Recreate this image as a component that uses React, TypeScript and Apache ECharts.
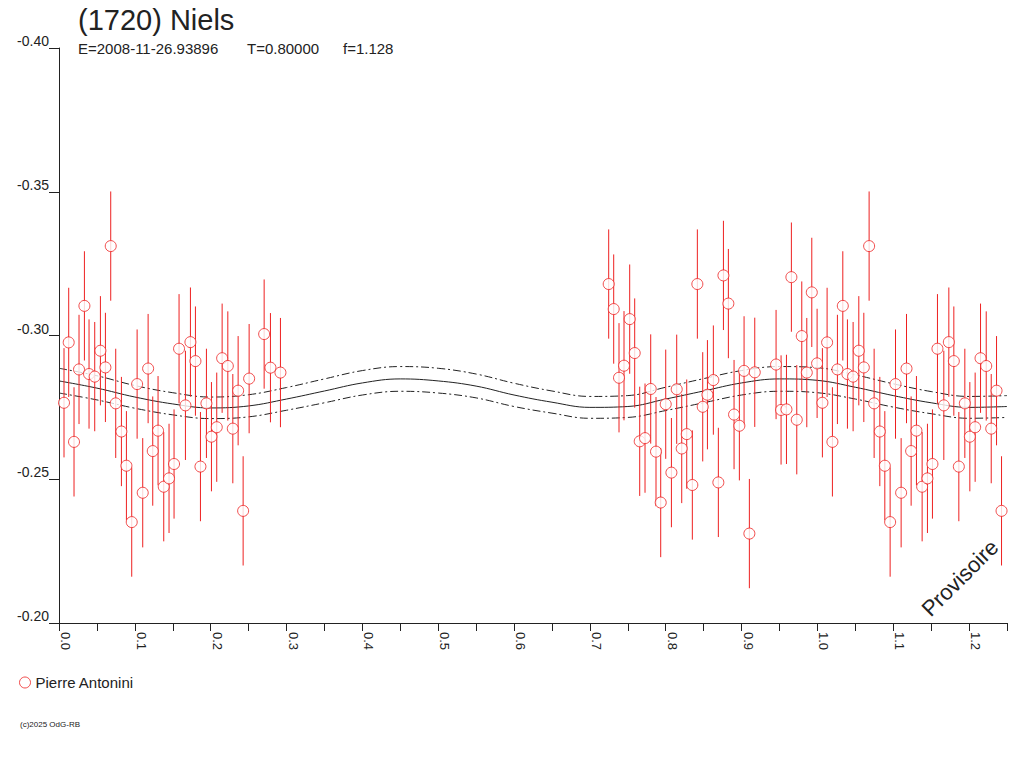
import React, { useEffect, useRef } from "react";
import * as echarts from "echarts";

const TITLE = "(1720) Niels";
const SUB_E = "E=2008-11-26.93896";
const SUB_T = "T=0.80000";
const SUB_F = "f=1.128";
const OBSERVER = "Pierre Antonini";
const WATERMARK = "Provisoire";
const COPYRIGHT = "(c)2025 OdG-RB";

// Observations (phase in [0,1)), reduced magnitude
const OBS_PHASE = [
  0.0066, 0.0128, 0.0198, 0.0264, 0.0335, 0.0396, 0.0471, 0.0546, 0.0612, 0.0682,
  0.0748, 0.0823, 0.0889, 0.0959, 0.103, 0.1104, 0.1175, 0.1236, 0.1306, 0.1381,
  0.1451, 0.1517, 0.1583, 0.1667, 0.1733, 0.1799, 0.1865, 0.1944, 0.201, 0.208,
  0.2151, 0.2226, 0.2292, 0.2362, 0.2428, 0.2507, 0.2705, 0.2788, 0.292,
  0.7248, 0.7314, 0.7384, 0.745, 0.7525, 0.7591, 0.7657, 0.7727, 0.7802, 0.7872,
  0.7934, 0.8, 0.8075, 0.8145, 0.8211, 0.8277, 0.8351, 0.8417, 0.8488, 0.855,
  0.8628, 0.8694, 0.8761, 0.8826, 0.8901, 0.8971, 0.9033, 0.9103, 0.9174, 0.9455,
  0.9521, 0.9592, 0.9657, 0.9728, 0.9794, 0.986, 0.9926, 0.9996,
];
const OBS_MAG = [
  -0.2766, -0.2976, -0.263, -0.2882, -0.3103, -0.2866, -0.2857, -0.2947, -0.2889, -0.3311,
  -0.2764, -0.2666, -0.2547, -0.2351, -0.2831, -0.2453, -0.2885, -0.2598, -0.2669, -0.2474,
  -0.2503, -0.2553, -0.2954, -0.2757, -0.2977, -0.2911, -0.2544, -0.2764, -0.2648, -0.2681,
  -0.2921, -0.2894, -0.2676, -0.2808, -0.239, -0.285, -0.3005, -0.2888, -0.2871,
  -0.3179, -0.3092, -0.2853, -0.2895, -0.3057, -0.2939, -0.2632, -0.2643, -0.2814, -0.2596,
  -0.2419, -0.2761, -0.2523, -0.2813, -0.2607, -0.2657, -0.248, -0.3179, -0.2752, -0.2794,
  -0.2845, -0.2489, -0.3209, -0.3111, -0.2725, -0.2686, -0.2877, -0.2311, -0.2872, -0.2899,
  -0.2741, -0.2743, -0.3203, -0.2707, -0.2998, -0.2871, -0.315, -0.2903,
];
const OBS_ERR = 0.019;

// Fitted curve and its envelope
const FIT_PHASE = [
  0, 0.05, 0.1, 0.15, 0.2, 0.25, 0.3, 0.35, 0.4, 0.45, 0.5, 0.55, 0.6,
  0.65, 0.7, 0.75, 0.8, 0.85, 0.9, 0.95, 1.0, 1.05, 1.1, 1.15, 1.2, 1.25,
];
const FIT_MAG = [
  -0.2842, -0.2817, -0.2786, -0.2762, -0.2748, -0.2755, -0.2779, -0.2807, -0.2835, -0.2849,
  -0.2842, -0.2824, -0.2793, -0.2768, -0.2750, -0.2753, -0.2779, -0.2807, -0.2835, -0.2849,
  -0.2844, -0.2820, -0.2791, -0.2766, -0.2750, -0.2753,
];
const FIT_UPPER = [
  -0.2886, -0.286, -0.2826, -0.2801, -0.2786, -0.2794, -0.2819, -0.2849, -0.2878, -0.2892,
  -0.2886, -0.2866, -0.2834, -0.2807, -0.2788, -0.2791, -0.282, -0.285, -0.2878, -0.2892,
  -0.2888, -0.2863, -0.2832, -0.2805, -0.2788, -0.2791,
];
const FIT_LOWER = [
  -0.28, -0.2776, -0.2747, -0.2724, -0.2711, -0.2717, -0.274, -0.2766, -0.2793, -0.2806,
  -0.28, -0.2783, -0.2753, -0.273, -0.2712, -0.2715, -0.2739, -0.2766, -0.2793, -0.2806,
  -0.2801, -0.2779, -0.2751, -0.2728, -0.2712, -0.2715,
];

const X_MIN = 0;
const X_MAX = 1.25;
const X_STEP = 0.05;
const Y_MIN = -0.4;
const Y_MAX = -0.2;
const Y_STEP = 0.05;

const RED = "#ee2020";
const INK = "#222222";
const FONT = "'Liberation Sans', Arial, sans-serif";

export default function App() {
  const ref = useRef<HTMLDivElement>(null);

  useEffect(() => {
    if (!ref.current) return;
    const chart = echarts.init(ref.current, undefined, { renderer: "svg" });

    const obs: number[][] = [];
    OBS_PHASE.forEach((p, i) => obs.push([p, OBS_MAG[i]]));
    OBS_PHASE.forEach((p, i) => {
      if (p + 1 <= X_MAX) obs.push([p + 1, OBS_MAG[i]]);
    });
    const bars = obs.map((d) => [d[0], d[1] - OBS_ERR, d[1] + OBS_ERR]);

    const fit = FIT_PHASE.map((p, i) => [p, FIT_MAG[i]]);
    const up = FIT_PHASE.map((p, i) => [p, FIT_UPPER[i]]);
    const lo = FIT_PHASE.map((p, i) => [p, FIT_LOWER[i]]);

    const textStyle = (text: string, size: number, align = "left") => ({
      text,
      fontSize: size,
      fontFamily: FONT,
      fill: INK,
      align,
      verticalAlign: "middle",
      textAlign: align,
      textVerticalAlign: "middle",
    });

    const option: any = {
      animation: false,
      backgroundColor: "#ffffff",
      textStyle: { fontFamily: FONT },
      grid: { left: 59, right: 17, top: 48, bottom: 145, containLabel: false },
      xAxis: {
        type: "value",
        min: X_MIN,
        max: X_MAX,
        interval: X_STEP,
        axisLine: { show: true, onZero: false, lineStyle: { color: INK, width: 1 } },
        axisTick: { show: true, length: 8, lineStyle: { color: INK, width: 1 } },
        splitLine: { show: false },
        axisLabel: {
          rotate: -90,
          margin: 9,
          fontSize: 13,
          color: INK,
          fontFamily: FONT,
          verticalAlign: "bottom",
          showMinLabel: true,
          showMaxLabel: true,
          formatter: (v: number) =>
            Math.abs(v * 10 - Math.round(v * 10)) < 1e-6 ? v.toFixed(1) : "",
        },
      },
      yAxis: {
        type: "value",
        inverse: true,
        min: Y_MIN,
        max: Y_MAX,
        interval: Y_STEP,
        axisLine: { show: true, onZero: false, lineStyle: { color: INK, width: 1 } },
        axisTick: { show: true, length: 10, lineStyle: { color: INK, width: 1 } },
        splitLine: { show: false },
        axisLabel: {
          margin: 10,
          fontSize: 14,
          color: INK,
          fontFamily: FONT,
          verticalAlign: "bottom",
          showMinLabel: true,
          showMaxLabel: true,
          formatter: (v: number) => v.toFixed(2),
        },
      },
      legend: {
        left: 19,
        top: 675,
        padding: 0,
        itemWidth: 11,
        itemHeight: 11,
        itemStyle: { color: "#ffffff", borderColor: RED, borderWidth: 1 },
        textStyle: { fontSize: 15, color: INK, fontFamily: FONT },
        data: [{ name: OBSERVER, icon: "circle" }],
      },
      graphic: [
        { type: "text", x: 78, y: 20, style: textStyle(TITLE, 29) },
        { type: "text", x: 78, y: 48, style: textStyle(SUB_E, 15) },
        { type: "text", x: 247, y: 48, style: textStyle(SUB_T, 15) },
        { type: "text", x: 343, y: 48, style: textStyle(SUB_F, 15) },
        {
          type: "text",
          x: 960,
          y: 578,
          rotation: Math.PI / 4,
          style: textStyle(WATERMARK, 22, "center"),
        },
        { type: "text", x: 20, y: 724, style: textStyle(COPYRIGHT, 8) },
      ],
      series: [
        {
          name: "fit",
          type: "line",
          data: fit,
          smooth: 0.4,
          showSymbol: false,
          silent: true,
          lineStyle: { color: INK, width: 1 },
          z: 1,
        },
        {
          name: "fit-upper",
          type: "line",
          data: up,
          smooth: 0.4,
          showSymbol: false,
          silent: true,
          lineStyle: { color: INK, width: 1, type: [8, 3, 2, 3] },
          z: 1,
        },
        {
          name: "fit-lower",
          type: "line",
          data: lo,
          smooth: 0.4,
          showSymbol: false,
          silent: true,
          lineStyle: { color: INK, width: 1, type: [8, 3, 2, 3] },
          z: 1,
        },
        {
          name: "errors",
          type: "custom",
          data: bars,
          encode: { x: 0, y: [1, 2] },
          silent: true,
          z: 2,
          renderItem: (params: any, api: any) => {
            const x = api.value(0);
            const a = api.coord([x, api.value(1)]);
            const b = api.coord([x, api.value(2)]);
            return {
              type: "line",
              shape: { x1: a[0], y1: a[1], x2: b[0], y2: b[1] },
              style: { stroke: RED, lineWidth: 1 },
            };
          },
        },
        {
          name: OBSERVER,
          type: "scatter",
          data: obs,
          symbol: "circle",
          symbolSize: 11,
          itemStyle: { color: "#ffffff", borderColor: RED, borderWidth: 1 },
          z: 3,
        },
      ],
    };

    chart.setOption(option);
    return () => chart.dispose();
  }, []);

  return (
    <div
      ref={ref}
      style={{ position: "absolute", left: 0, top: 0, width: 1024, height: 768, background: "#fff" }}
    />
  );
}
